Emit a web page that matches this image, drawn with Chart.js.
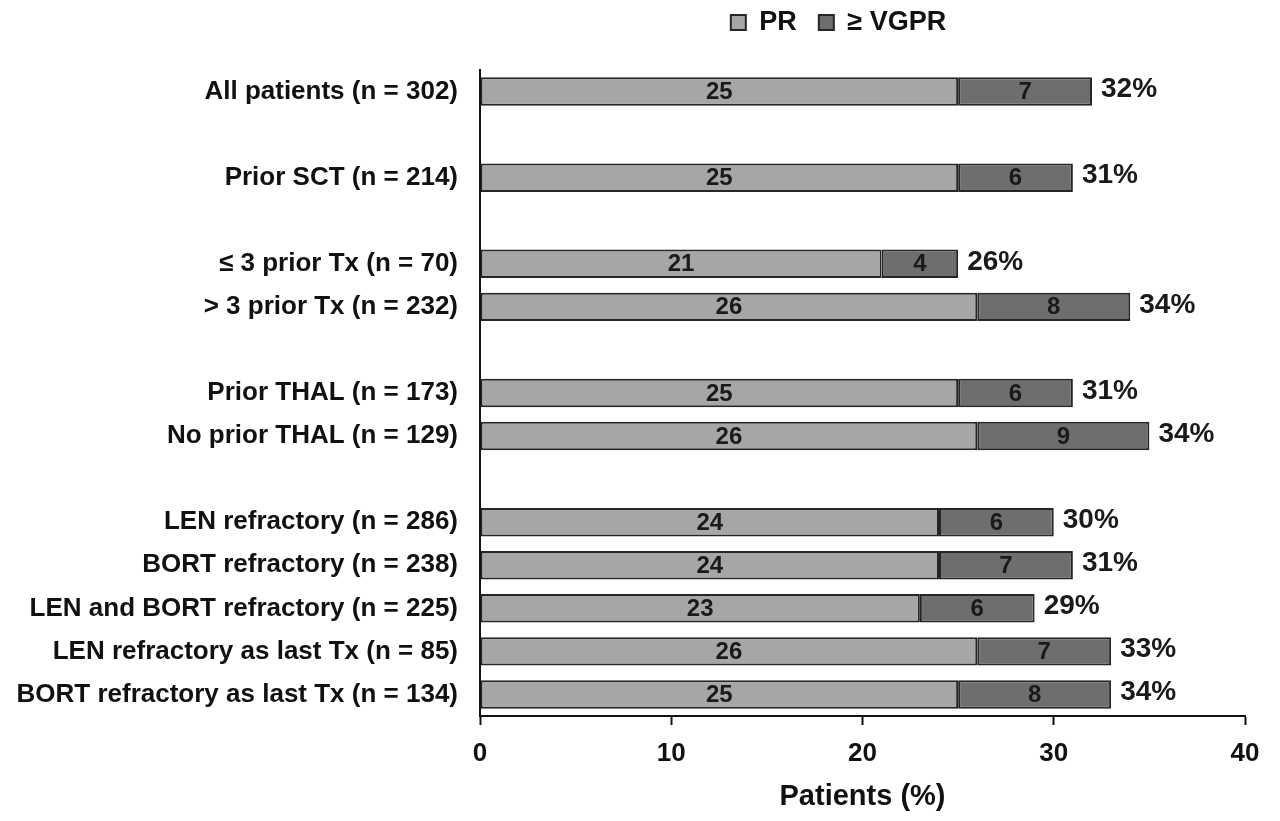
<!DOCTYPE html>
<html>
<head>
<meta charset="utf-8">
<script src="https://cdn.jsdelivr.net/npm/chart.js@4"></script>
<style>
  body { margin: 0; background: #fff; }
  #wrap { width: 1280px; height: 821px; }
</style>
</head>
<body>
<div id="wrap"><canvas id="responseChart"></canvas></div>
<script>
// -------------------- DATA --------------------
// empty strings are the spacer rows between groups
const categories = [
    'All patients (n = 302)', '',
    'Prior SCT (n = 214)', '',
    '\u2264 3 prior Tx (n = 70)', '> 3 prior Tx (n = 232)', '',
    'Prior THAL (n = 173)', 'No prior THAL (n = 129)', '',
    'LEN refractory (n = 286)', 'BORT refractory (n = 238)',
    'LEN and BORT refractory (n = 225)', 'LEN refractory as last Tx (n = 85)',
    'BORT refractory as last Tx (n = 134)'
];
const prValues   = [25, null, 25, null, 21, 26, null, 25, 26, null, 24, 24, 23, 26, 25];
const vgprValues = [7, null, 6, null, 4, 8, null, 6, 9, null, 6, 7, 6, 7, 8];
const totalLabels = ['32%', null, '31%', null, '26%', '34%', null, '31%', '34%', null, '30%', '31%', '29%', '33%', '34%'];
const xTicks = [0, 10, 20, 30, 40];

const FONT = "'Liberation Sans', Arial, sans-serif";
const LEGEND_SHIFT_X = -24;   // legend sits a bit left of the plot centre
const LEGEND_SHIFT_Y = -13;

// -------------------- LABEL PLUGIN --------------------
const barLabels = {
    id: 'barLabels',
    afterLayout(chart) {
        const lg = chart.legend;
        lg.left += LEGEND_SHIFT_X;
        lg.right += LEGEND_SHIFT_X;
        lg.top += LEGEND_SHIFT_Y;
        lg.bottom += LEGEND_SHIFT_Y;
    },
    afterDatasetsDraw(chart) {
        const ctx = chart.ctx;
        ctx.save();
        ctx.fillStyle = '#1a1a1a';
        ctx.textBaseline = 'middle';

        // numbers inside each segment
        ctx.font = 'bold 24px ' + FONT;
        ctx.textAlign = 'center';
        chart.data.datasets.forEach((ds, di) => {
            chart.getDatasetMeta(di).data.forEach((bar, i) => {
                if (ds.data[i] == null) return;
                const mid = (bar.x + bar.base) / 2;
                ctx.fillText(String(ds.data[i]), mid, bar.y + 1);
            });
        });

        // totals at bar end
        ctx.font = 'bold 28px ' + FONT;
        ctx.textAlign = 'left';
        const last = chart.getDatasetMeta(chart.data.datasets.length - 1).data;
        last.forEach((bar, i) => {
            if (!totalLabels[i]) return;
            ctx.fillText(totalLabels[i], bar.x + 9, bar.y - 2);
        });
        ctx.restore();
    }
};

// -------------------- CHART --------------------
new Chart(document.getElementById('responseChart'), {
    type: 'bar',
    data: {
        labels: categories,
        datasets: [
            {
                label: 'PR',
                data: prValues,
                backgroundColor: '#a6a6a6',
                borderColor: '#262626',
                borderWidth: 2,
                borderSkipped: false,
                barPercentage: 0.66,
                categoryPercentage: 1
            },
            {
                label: '\u2265 VGPR',
                data: vgprValues,
                backgroundColor: '#6e6e6e',
                borderColor: '#262626',
                borderWidth: 2,
                borderSkipped: false,
                barPercentage: 0.66,
                categoryPercentage: 1
            }
        ]
    },
    options: {
        indexAxis: 'y',
        responsive: true,
        maintainAspectRatio: false,
        animation: false,
        layout: { padding: { top: 0, right: 35, bottom: 4, left: 0 } },
        plugins: {
            tooltip: { enabled: false },
            legend: {
                position: 'top',
                fullSize: false,
                labels: {
                    color: '#111',
                    font: { family: FONT, size: 27, weight: 'bold' },
                    boxWidth: 15,
                    boxHeight: 15,
                    padding: 22
                }
            }
        },
        scales: {
            x: {
                stacked: true,
                min: 0,
                max: 40,
                afterBuildTicks: (scale) => { scale.ticks = xTicks.map(v => ({ value: v })); },
                afterFit: (scale) => { scale.height = 101; },
                grid: {
                    drawOnChartArea: false,
                    drawTicks: true,
                    tickLength: 9,
                    tickColor: '#111',
                    tickWidth: 2
                },
                border: { display: true, color: '#111', width: 2 },
                ticks: {
                    color: '#111',
                    padding: 13,
                    font: { family: FONT, size: 26, weight: 'bold' }
                },
                title: {
                    display: true,
                    text: 'Patients (%)',
                    color: '#111',
                    font: { family: FONT, size: 29, weight: 'bold' },
                    padding: { top: 0, bottom: 3 }
                }
            },
            // empty band between legend and plot
            gap: {
                type: 'linear',
                position: 'top',
                display: true,
                afterFit: (scale) => { scale.height = 11; },
                grid: { display: false },
                border: { display: false },
                ticks: { display: false }
            },
            y: {
                stacked: true,
                afterFit: (scale) => { scale.width = 480; },
                grid: { display: false, drawTicks: false },
                border: { display: true, color: '#111', width: 2 },
                ticks: {
                    color: '#111',
                    padding: 22,
                    autoSkip: false,
                    font: { family: FONT, size: 26, weight: 'bold' }
                }
            }
        }
    },
    plugins: [barLabels]
});
</script>
</body>
</html>
